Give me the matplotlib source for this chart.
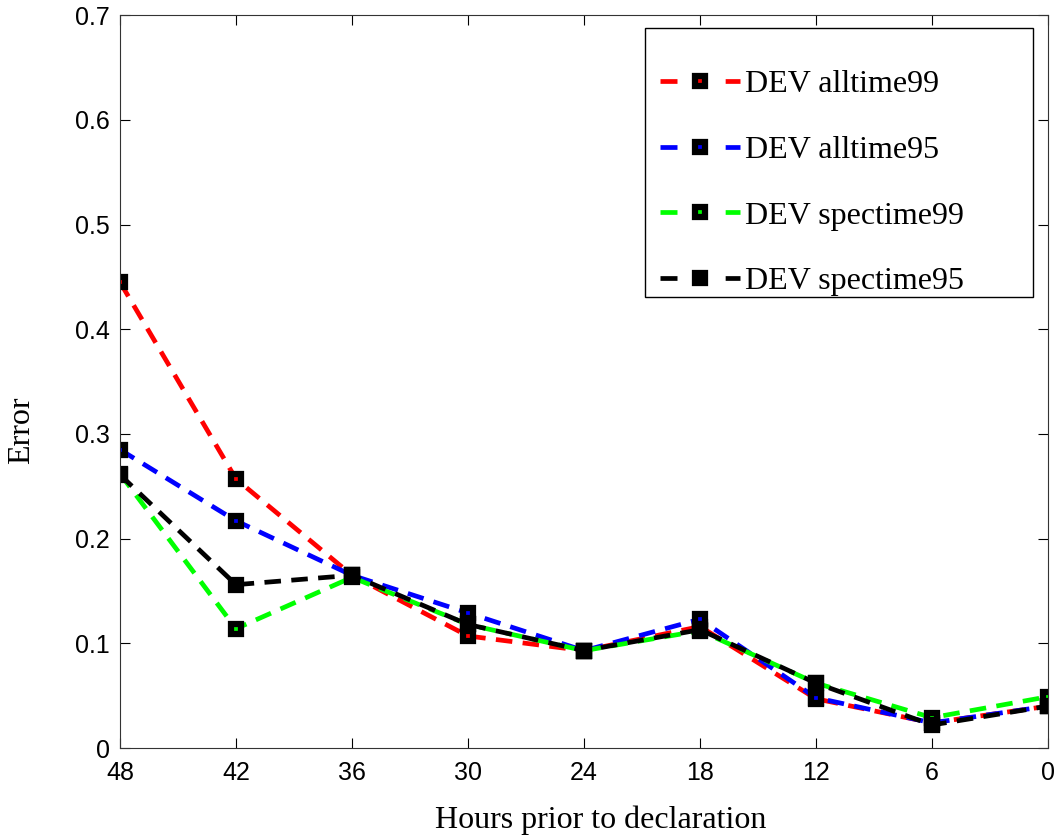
import matplotlib.pyplot as plt
from matplotlib.lines import Line2D
from matplotlib.patches import Rectangle

hours = [48, 42, 36, 30, 24, 18, 12, 6, 0]

alltime99 = [0.445, 0.257, 0.165, 0.107, 0.093, 0.116, 0.047, 0.024, 0.040]
alltime95 = [0.285, 0.217, 0.165, 0.129, 0.093, 0.123, 0.048, 0.024, 0.040]
spectime99 = [0.262, 0.114, 0.163, 0.118, 0.093, 0.112, 0.062, 0.029, 0.049]
spectime95 = [0.261, 0.156, 0.165, 0.118, 0.093, 0.113, 0.062, 0.022, 0.040]

series = [
    ("DEV alltime99", alltime99, "#ff0000"),
    ("DEV alltime95", alltime95, "#0000ff"),
    ("DEV spectime99", spectime99, "#00ff00"),
    ("DEV spectime95", spectime95, "#000000"),
]

fig = plt.figure(figsize=(10.57, 8.4), dpi=100)
ax = fig.add_axes([0.1135, 0.1095, 0.878, 0.8725])

handles = []
for label, values, color in series:
    ax.plot(hours, values, linestyle=(0, (3.5, 2.2)), linewidth=3.4,
            color=color, marker="s", markersize=7, markeredgewidth=4.5,
            markeredgecolor="black", markerfacecolor=color)
    # legend proxy: short dash, marker, short dash
    handles.append(Line2D([], [], linestyle=(0, (3.6, 10.2)), linewidth=3.4,
                          color=color, marker="s", markersize=7,
                          markeredgewidth=4.5, markeredgecolor="black",
                          markerfacecolor=color, label=label))

ax.set_xlim(48, 0)
ax.set_ylim(0, 0.7)
ax.set_xticks(hours)
ax.set_xticklabels([str(h) for h in hours])
ax.set_yticks([0, 0.1, 0.2, 0.3, 0.4, 0.5, 0.6, 0.7])
ax.set_yticklabels(["0", "0.1", "0.2", "0.3", "0.4", "0.5", "0.6", "0.7"])
ax.tick_params(direction="in", length=7, labelsize=18, top=True, right=True)
ax.tick_params(axis="x", pad=9)
ax.tick_params(axis="y", pad=7)
for lbl in ax.get_xticklabels() + ax.get_yticklabels():
    lbl.set_family("Liberation Sans")
for sp in ax.spines.values():
    sp.set_color("#333333")

ax.set_xlabel("Hours prior to declaration", family="Liberation Serif",
              fontsize=23, va="center")
ax.xaxis.set_label_coords(0.518, -0.098)
ax.set_ylabel("Error", family="Liberation Serif", fontsize=23, va="center")
ax.yaxis.set_label_coords(-0.106, 0.434)

# legend box drawn separately (content sits low in the frame)
fig.patches.append(Rectangle((0.6102, 0.6464), 0.3671, 0.3202,
                             transform=fig.transFigure, fill=False,
                             edgecolor="black", linewidth=1.0))
ax.legend(handles=handles, loc="upper left",
          bbox_to_anchor=(660 / 1057, 0.9170), bbox_transform=fig.transFigure,
          borderaxespad=0, borderpad=0, numpoints=1, handlelength=2.5,
          handletextpad=0.15, labelspacing=1.14, frameon=False,
          prop={"family": "Liberation Serif", "size": 23})

fig.savefig("out.png", dpi=100)
